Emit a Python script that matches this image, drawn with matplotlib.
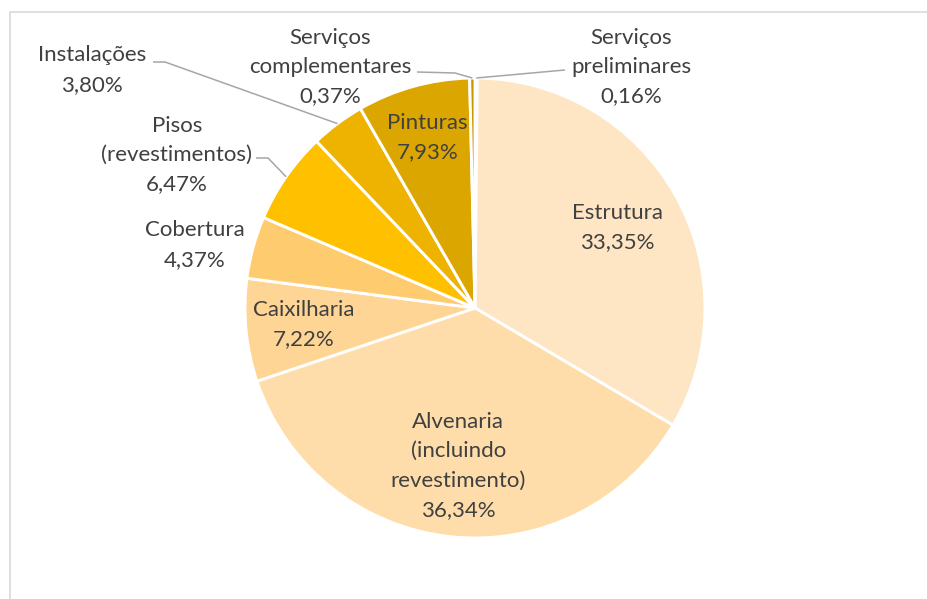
import numpy as np
import matplotlib
matplotlib.use("Agg")
import matplotlib.pyplot as plt

plt.rcParams['font.family'] = ['Lato', 'DejaVu Sans']

# data, clockwise from 12 o'clock
categories = ["Serviços\npreliminares", "Estrutura", "Alvenaria\n(incluindo\nrevestimento)",
              "Caixilharia", "Cobertura", "Pisos\n(revestimentos)", "Instalações",
              "Pinturas", "Serviços\ncomplementares"]
values = [0.16, 33.35, 36.34, 7.22, 4.37, 6.47, 3.80, 7.93, 0.37]
colors = ["#FFF0D0", "#FEE6C5", "#FEDDAB", "#FED594", "#FFCB6F",
          "#FFC000", "#EEB200", "#DCA600", "#C99600"]

TEXT = "#404040"
LEADER = "#A6A6A6"

W, H = 928, 599
fig = plt.figure(figsize=(W / 100, H / 100), dpi=100)
ax = fig.add_axes([0, 0, 1, 1])

cx, cy, r = 475, H - 308, 230
wedges, _ = ax.pie(values, colors=colors, startangle=90, counterclock=False,
                   center=(cx, cy), radius=r, frame=True,
                   wedgeprops=dict(edgecolor='white', linewidth=2.1))
ax.set_xlim(0, W)
ax.set_ylim(0, H)
ax.set_aspect('equal')
ax.axis('off')


def label_text(i):
    return categories[i] + "\n" + f"{values[i]:.2f}".replace('.', ',') + "%"


def mid_point(i, frac):
    w = wedges[i]
    a = np.deg2rad((w.theta1 + w.theta2) / 2)
    return cx + frac * r * np.cos(a), cy + frac * r * np.sin(a)


FS = 16
LS = 1.58

# labels inside the slices (index, fraction of radius)
inside = [(1, 0.71), (2, 0.69), (3, 0.75), (7, 0.77)]
for i, frac in inside:
    x, y = mid_point(i, frac)
    ax.text(x, y, label_text(i), ha='center', va='center', color=TEXT,
            fontsize=FS, linespacing=LS)

# labels outside: (index, text centre in px, leader points in px)
outside = [
    (0, (631, 67), [(565, 70)]),
    (8, (330, 67), [(417, 72), (455, 73)]),
    (6, (92, 70), [(153, 62), (165, 62)]),
    (5, (177, 155), [(256, 158), (268, 158)]),
    (4, (195, 245), []),
]
for i, (tx, ty), pts in outside:
    ax.text(tx, H - ty, label_text(i), ha='center', va='center', color=TEXT,
            fontsize=FS, linespacing=LS)
    if pts:
        ex, ey = mid_point(i, 1.0)
        xs = [p[0] for p in pts] + [ex]
        ys = [H - p[1] for p in pts] + [ey]
        ax.plot(xs, ys, color=LEADER, linewidth=1.1, solid_capstyle='butt')

# chart border (cut off on right and bottom)
ax.plot([10, 10, W + 5], [-5, H - 11.5, H - 11.5], color="#D9D9D9", linewidth=1.2)

fig.savefig("out.png", dpi=100)
